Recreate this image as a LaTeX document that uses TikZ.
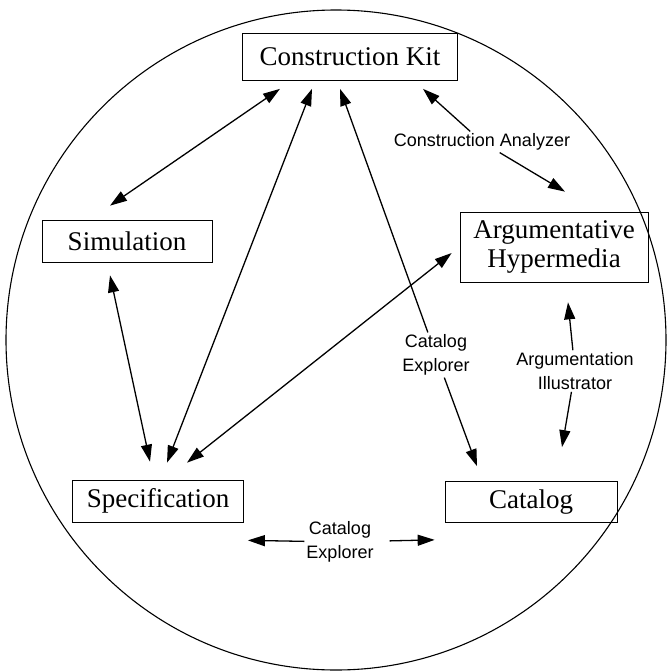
\documentclass[tikz,border=0pt]{standalone}
\usepackage{fontspec}
\setmainfont{Liberation Serif}
\setsansfont{Liberation Sans}
\usetikzlibrary{arrows.meta}

\begin{document}
\begin{tikzpicture}[x=1pt,y=-1pt,
    box/.style={draw, line width=0.7pt, inner sep=0pt, align=center, font=\fontsize{27}{29}\selectfont},
    tool/.style={align=center, inner sep=2pt, font=\sffamily\fontsize{18}{24}\selectfont},
    link/.style={line width=1.3pt, -{Triangle[length=17pt,width=11pt]}},
    both/.style={line width=1.3pt, {Triangle[length=17pt,width=11pt]}-{Triangle[length=17pt,width=11pt]}}]
    \useasboundingbox (0,0) rectangle (667,672);
    % outer circle
    \draw[line width=1.1pt] (336,340) circle[radius=330pt];
    % components
    \node[box, minimum width=215pt, minimum height=47pt] (kit) at (350,57) {Construction Kit};
    \node[box, minimum width=170pt, minimum height=42pt] (sim) at (127,241) {Simulation};
    \node[box, minimum width=188pt, minimum height=70pt] (arg) at (554,247) {Argumentative\\Hypermedia};
    \node[box, minimum width=171pt, minimum height=42pt] (spec) at (158,501) {Specification};
    \node[box, minimum width=172pt, minimum height=41pt] (cat) at (531,502) {Catalog};
    % tools
    \node[tool] (ca) at (482,142) {Construction Analyzer};
    \node[tool] (ce1) at (436,355) {Catalog\\Explorer};
    \node[tool] (ai) at (575,371) {Argumentation\\Illustrator};
    \node[tool] (ce2) at (340,542) {Catalog\\Explorer};
    % plain links
    \draw[both] ([xshift=-70pt,yshift=-8pt]kit.south) -- ([xshift=-17pt,yshift=14pt]sim.north);
    \draw[both] ([xshift=-17pt,yshift=-13pt]sim.south) -- ([xshift=-8pt,yshift=18pt]spec.north);
    \draw[both] ([xshift=-38pt,yshift=-8pt]kit.south) -- ([xshift=9pt,yshift=17pt]spec.north);
    \draw[both] ([xshift=29pt,yshift=17pt]spec.north) -- ([xshift=-8pt,yshift=-6pt]arg.west);
    % links through a tool
    \draw[link] (ca) -- ([xshift=73pt,yshift=-8pt]kit.south);
    \draw[link] (ca) -- ([xshift=11pt,yshift=20pt]arg.north);
    \draw[link] (ce1) -- ([xshift=-10pt,yshift=-8pt]kit.south);
    \draw[link] (ce1) -- ([xshift=-54pt,yshift=15pt]cat.north);
    \draw[link] (ai) -- ([xshift=14pt,yshift=-20pt]arg.south);
    \draw[link] (ai) -- ([xshift=31pt,yshift=34pt]cat.north);
    \draw[link] (ce2) -- ([xshift=4pt,yshift=-18pt]spec.south east);
    \draw[link, shorten <=14pt] (ce2) -- ([xshift=-10pt,yshift=-17pt]cat.south west);
\end{tikzpicture}
\end{document}
